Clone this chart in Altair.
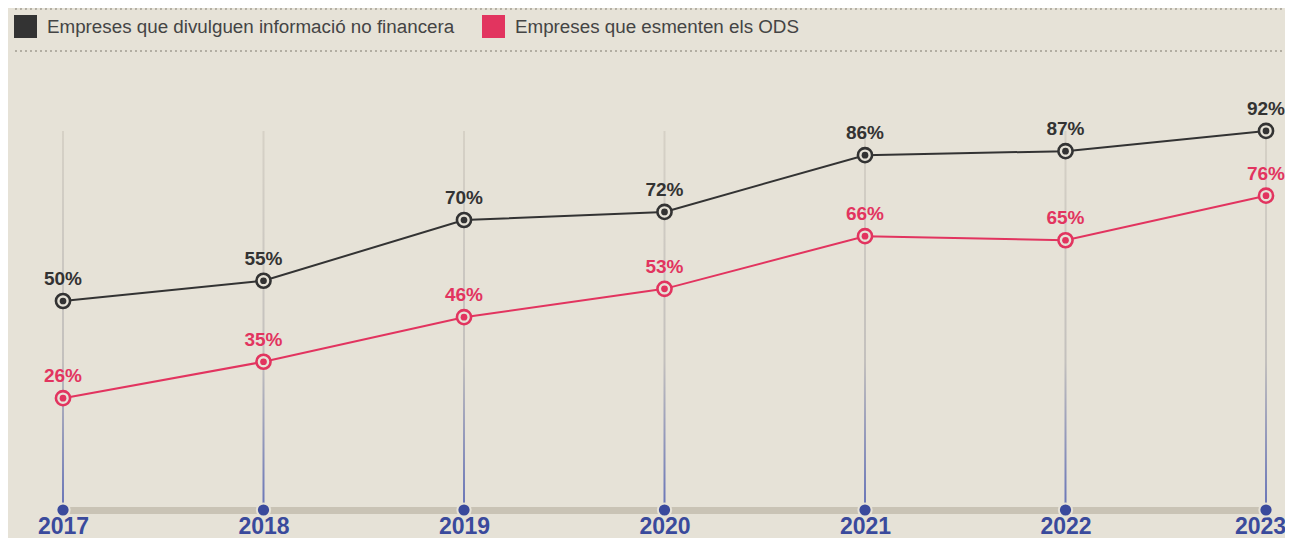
import altair as alt
import pandas as pd

# ---- data ----
years = [2017, 2018, 2019, 2020, 2021, 2022, 2023]
series_names = ["Empreses que divulguen informació no financera", "Empreses que esmenten els ODS"]
no_financera = [50, 55, 70, 72, 86, 87, 92]
ods = [26, 35, 46, 53, 66, 65, 76]
series_colors = ["#333333", "#e2345f"]

BG = "#e6e2d7"
BLUE = "#3a4a9c"
FONT = "Liberation Sans"

rows = []
for s, vals in zip(series_names, [no_financera, ods]):
    for yr, v in zip(years, vals):
        rows.append({"year": yr, "series": s, "value": v, "label": f"{v}%"})
df = pd.DataFrame(rows)

top = max(no_financera + ods)
grid_df = pd.DataFrame({"year": years, "top": [top] * len(years), "bottom": [0] * len(years)})

xscale = alt.Scale(domain=[2017, 2023], range=[55, 1258], padding=0, nice=False, zero=False)
yscale = alt.Scale(domain=[0, 100], range=[495.5, 90.5])

last_year = years[-1]
x_axis = alt.Axis(
    title=None, values=years, format="d", labelFontSize=23, labelFontWeight="bold",
    labelColor=BLUE, labelFont=FONT, ticks=False, tickSize=0, labelPadding=23,
    labelBaseline="alphabetic", domainColor="#c9c3b5", domainWidth=7, grid=False,
    labelFlush=False, domainCap="butt",
    labelOffset={"condition": {"test": f"datum.value == {last_year}", "value": -6}, "value": 0},
)

X = alt.X("year:Q", scale=xscale, axis=x_axis)
Y = alt.Y("value:Q", scale=yscale, axis=None)
color_nolegend = alt.Color("series:N", scale=alt.Scale(domain=series_names, range=series_colors), legend=None)

legend = alt.Legend(
    title=None, orient="none", legendX=6, legendY=7, direction="horizontal",
    symbolType="square", symbolSize=529, symbolStrokeWidth=0, symbolOpacity=1,
    labelFontSize=18.8, labelFont=FONT, labelColor="#444444", labelOffset=10,
    columnPadding=27, padding=0, labelLimit=0,
)
color_legend = alt.Color("series:N", scale=alt.Scale(domain=series_names, range=series_colors), legend=legend)

grad = alt.Gradient(
    gradient="linear", x1=0, x2=0, y1=0, y2=1,
    stops=[
        alt.GradientStop(color="#d6d1c6", offset=0),
        alt.GradientStop(color="#c3c0bd", offset=0.62),
        alt.GradientStop(color="#6b77b8", offset=1),
    ],
)

grid = alt.Chart(grid_df).mark_bar(size=2, color=grad).encode(
    x=X, y=alt.Y("top:Q", scale=yscale, axis=None), y2="bottom:Q"
)

dots = alt.Chart(grid_df).mark_point(
    shape="circle", filled=True, size=175, fill=BLUE, stroke=BG, strokeWidth=2, opacity=1
).encode(x=X, y=alt.value(502))

sep1 = alt.Chart(grid_df).mark_rule(strokeDash=[1.5, 3.5], color="#b2aea3", strokeWidth=1.5).encode(
    x=alt.value(7), x2=alt.value(1277), y=alt.value(0.75)
)
sep2 = alt.Chart(grid_df).mark_rule(strokeDash=[1.5, 3.5], color="#b2aea3", strokeWidth=1.5).encode(
    x=alt.value(7), x2=alt.value(1277), y=alt.value(43)
)

base = alt.Chart(df)
lines = base.mark_line(strokeWidth=2).encode(x=X, y=Y, color=color_nolegend, detail="series:N")
rings = base.mark_point(shape="circle", size=200, strokeWidth=2.6, fill=BG, filled=False, fillOpacity=1, opacity=1).encode(
    x=X, y=Y, stroke=alt.Stroke("series:N", scale=alt.Scale(domain=series_names, range=series_colors), legend=None)
)
inner = base.mark_circle(size=45, opacity=1).encode(x=X, y=Y, color=color_legend)
labels = base.mark_text(dy=-16, baseline="alphabetic", fontSize=19, fontWeight="bold", font=FONT).encode(
    x=X, y=Y, text="label:N", color=color_nolegend
)

chart = alt.layer(sep1, sep2, grid, dots, lines, rings, inner, labels).properties(
    width=1277, height=502, background=BG,
    padding={"left": 0, "top": 0, "right": 0, "bottom": 28},
    autosize=alt.AutoSizeParams(type="none"),
).resolve_legend(color="independent").configure_view(stroke=None)

chart.save("out.html", embed_options={"renderer": "svg", "actions": False})
